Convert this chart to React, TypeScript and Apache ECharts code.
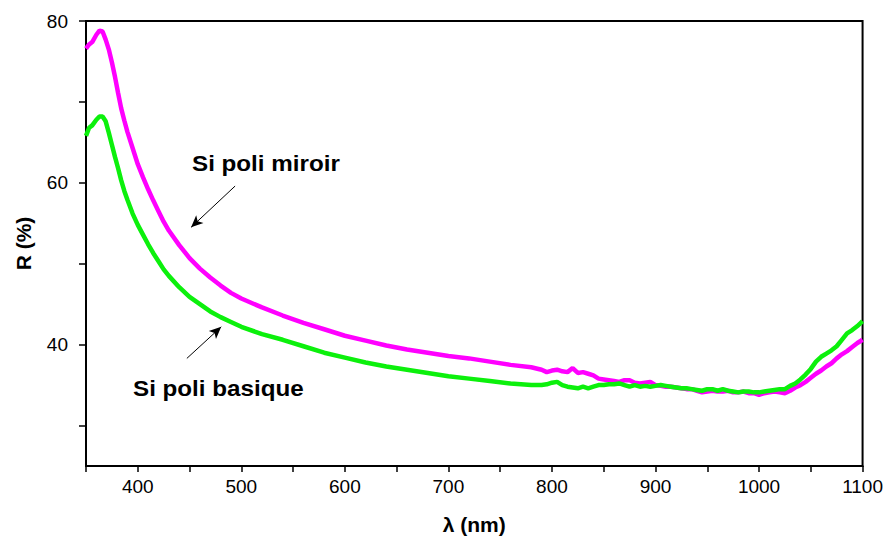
import React, { useEffect, useRef } from "react";
import * as echarts from "echarts";

// Wavelength grid (nm) shared by both reflectance spectra
const wavelengths = [
  350, 353, 356, 360, 363, 366, 369, 372, 375, 378, 381, 384, 387, 390, 395, 400, 405, 410, 415, 420,
  425, 430, 440, 450, 460, 470, 480, 490, 500, 520, 540, 560, 580, 600, 620, 640, 660, 680, 700, 720, 740,
  760, 780, 790, 795, 800, 805, 810, 815, 820, 825, 830, 835, 840, 845, 850, 855, 860, 865, 870, 875,
  880, 885, 890, 895, 900, 905, 910, 915, 920, 925, 930, 935, 940, 945, 950, 955, 960, 965, 970, 975,
  980, 985, 990, 995, 1000, 1005, 1010, 1015, 1020, 1025, 1030, 1035, 1040, 1045, 1050, 1055, 1060,
  1065, 1070, 1075, 1080, 1085, 1090, 1095, 1100,
];

// Reflectance R (%) – mirror-polished silicon
const miroir = [
  76.6, 77.1, 77.4, 78.3, 78.8, 78.7, 77.7, 76.5, 74.9, 73.1, 71.1, 69.2, 67.7, 66.3, 64.3, 62.3, 60.7, 59.2, 57.8, 56.5,
  55.2, 54.1, 52.3, 50.7, 49.4, 48.3, 47.3, 46.4, 45.7, 44.6, 43.6, 42.7, 41.9, 41.1, 40.5, 39.9, 39.4, 39.0, 38.6, 38.3, 37.9,
  37.5, 37.2, 36.9, 36.6, 36.8, 36.9, 36.7, 36.6, 37.1, 36.5, 36.6, 36.4, 36.2, 35.8, 35.7, 35.6, 35.5, 35.4, 35.6, 35.6,
  35.3, 35.2, 35.3, 35.4, 35.0, 34.9, 34.8, 34.8, 34.7, 34.6, 34.5, 34.5, 34.3, 34.1, 34.2, 34.3, 34.2, 34.2, 34.3, 34.1,
  34.1, 34.2, 34.0, 34.0, 33.8, 34.0, 34.1, 34.2, 34.1, 34.0, 34.3, 34.7, 35.0, 35.4, 35.9, 36.4, 36.8,
  37.3, 37.7, 38.3, 38.8, 39.2, 39.7, 40.2, 40.6,
];

// Reflectance R (%) – basic-polished silicon
const basique = [
  65.8, 66.8, 67.1, 67.8, 68.2, 68.2, 67.6, 66.2, 64.7, 63.2, 61.8, 60.3, 59.0, 57.9, 56.2, 54.8, 53.6, 52.4, 51.3, 50.3,
  49.3, 48.5, 47.1, 45.9, 45.0, 44.1, 43.4, 42.8, 42.2, 41.3, 40.6, 39.8, 39.0, 38.4, 37.8, 37.3, 36.9, 36.5, 36.1, 35.8, 35.5,
  35.2, 35.0, 35.0, 35.1, 35.3, 35.4, 35.0, 34.8, 34.7, 34.6, 34.8, 34.6, 34.8, 35.0, 35.0, 35.1, 35.1, 35.2, 35.0, 34.8,
  35.0, 34.8, 34.9, 34.8, 34.9, 35.0, 34.9, 34.8, 34.7, 34.6, 34.6, 34.5, 34.4, 34.3, 34.5, 34.5, 34.3, 34.5, 34.3, 34.2,
  34.1, 34.2, 34.2, 34.1, 34.1, 34.2, 34.3, 34.4, 34.5, 34.5, 34.9, 35.2, 35.7, 36.3, 37.0, 37.9, 38.5,
  38.9, 39.3, 39.8, 40.6, 41.4, 41.8, 42.3, 42.9,
];

// Axis ticks and labelled values
const xTicks = [350, 400, 450, 500, 550, 600, 650, 700, 750, 800, 850, 900, 950, 1000, 1050, 1100];
const xLabels = [400, 500, 600, 700, 800, 900, 1000, 1100];
const yTicks = [30, 40, 50, 60, 70, 80];
const yLabels = [40, 60, 80];

// Annotation arrows: [from (λ, R), to (λ, R)]
const arrowMiroir = [[494, 59.6], [451.5, 54.5]];
const arrowBasique = [[447.4, 38.3], [480.6, 42.2]];

const FONT = "'Liberation Sans', Arial, sans-serif";

export default function App() {
  const ref = useRef<HTMLDivElement>(null);

  useEffect(() => {
    if (!ref.current) return;
    const chart = echarts.init(ref.current, null, { renderer: "svg" });

    const pairs = (ys: number[]) => wavelengths.map((w, i) => [w, ys[i]]);
    const arrow = (a: number[][]) => [{ coord: a[0] }, { coord: a[1] }];

    chart.setOption({
      animation: false,
      backgroundColor: "#ffffff",
      grid: {
        left: 86,
        right: 22,
        top: 21,
        bottom: 72,
        show: true,
        borderColor: "#000",
        borderWidth: 2,
      },
      xAxis: {
        type: "value",
        min: 350,
        max: 1100,
        name: "λ (nm)",
        nameLocation: "middle",
        nameGap: 48,
        nameTextStyle: { fontFamily: FONT, fontWeight: "bold", fontSize: 21, color: "#000" },
        axisLine: { lineStyle: { color: "#000", width: 2 } },
        axisTick: { inside: false, length: 6, lineStyle: { color: "#000", width: 1.5 }, customValues: xTicks },
        axisLabel: {
          fontFamily: FONT,
          fontSize: 19,
          color: "#000",
          margin: 11,
          customValues: xLabels,
          formatter: (v: number) => String(v),
        },
        splitLine: { show: false },
      },
      yAxis: {
        type: "value",
        min: 25,
        max: 80,
        name: "R (%)",
        nameLocation: "middle",
        nameGap: 52,
        nameTextStyle: { fontFamily: FONT, fontWeight: "bold", fontSize: 21, color: "#000" },
        axisLine: { lineStyle: { color: "#000", width: 2 } },
        axisTick: { inside: false, length: 7, lineStyle: { color: "#000", width: 1.5 }, customValues: yTicks },
        axisLabel: {
          fontFamily: FONT,
          fontSize: 19,
          color: "#000",
          margin: 18,
          customValues: yLabels,
          formatter: (v: number) => String(v),
        },
        splitLine: { show: false },
      },
      series: [
        {
          name: "Si poli miroir",
          type: "line",
          data: pairs(miroir),
          showSymbol: false,
          smooth: false,
          lineStyle: { color: "#ff00ff", width: 4.5 },
          z: 2,
          markLine: {
            silent: true,
            symbol: ["none", "arrow"],
            symbolSize: [8, 12],
            label: { show: false },
            lineStyle: { color: "#000", width: 1, type: "solid" },
            data: [arrow(arrowMiroir), arrow(arrowBasique)],
          },
        },
        {
          name: "Si poli basique",
          type: "line",
          data: pairs(basique),
          showSymbol: false,
          smooth: false,
          lineStyle: { color: "#0cf00c", width: 4.5 },
          z: 3,
        },
      ],
      graphic: [
        {
          type: "text",
          x: 192,
          y: 152,
          scaleX: 1.1,
          style: {
            text: "Si poli miroir",
            fontFamily: FONT,
            fontWeight: "bold",
            fontSize: 22,
            fill: "#000",
            textVerticalAlign: "top",
          },
        },
        {
          type: "text",
          x: 133,
          y: 377,
          scaleX: 1.1,
          style: {
            text: "Si poli basique",
            fontFamily: FONT,
            fontWeight: "bold",
            fontSize: 22,
            fill: "#000",
            textVerticalAlign: "top",
          },
        },
      ],
    });

    return () => chart.dispose();
  }, []);

  return (
    <div
      ref={ref}
      style={{ position: "fixed", left: 0, top: 0, width: 886, height: 540, background: "#fff" }}
    />
  );
}
